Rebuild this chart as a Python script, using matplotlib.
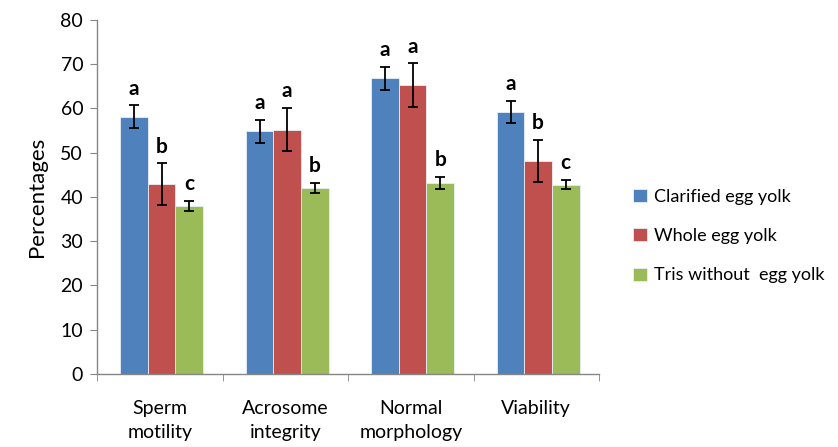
import numpy as np
import matplotlib.pyplot as plt

plt.rcParams['font.family'] = ['Lato', 'DejaVu Sans']

# Semen quality traits after freezing with three extenders
categories = ['Sperm\nmotility', 'Acrosome\nintegrity', 'Normal\nmorphology', 'Viability']
series = ['Clarified egg yolk', 'Whole egg yolk', 'Tris without  egg yolk']

clarified = [58.1, 54.9, 66.8, 59.3]
whole = [42.9, 55.2, 65.3, 48.1]
tris = [38.0, 42.1, 43.2, 42.8]

clarified_err = [2.6, 2.6, 2.6, 2.5]
whole_err = [4.7, 4.9, 4.9, 4.8]
tris_err = [1.2, 1.1, 1.3, 1.1]

clarified_sig = ['a', 'a', 'a', 'a']
whole_sig = ['b', 'a', 'a', 'b']
tris_sig = ['c', 'b', 'b', 'c']

colors = ['#4F81BD', '#C0504D', '#9BBB59']
axis_grey = '#868686'

fig = plt.figure(figsize=(8.38, 4.47), dpi=100)
ax = fig.add_axes([0.1158, 0.1633, 0.599, 0.792])

x = np.arange(len(categories))
w = 0.22
values = [clarified, whole, tris]
errors = [clarified_err, whole_err, tris_err]
letters = [clarified_sig, whole_sig, tris_sig]

for i, (vals, errs, sig) in enumerate(zip(values, errors, letters)):
    pos = x + (i - 1) * w + 0.015
    ax.bar(pos, vals, width=w, color=colors[i], edgecolor='#e8eef6', linewidth=0.6,
           label=series[i], zorder=2)
    ax.errorbar(pos, vals, yerr=errs, fmt='none', ecolor='black', elinewidth=1.3,
                capsize=3.6, capthick=1.3, zorder=3)
    for p, v, e, s in zip(pos, vals, errs, sig):
        ax.text(p, v + e + 1.5, s, ha='center', va='bottom', fontsize=15,
                fontweight='bold', color='black')

ax.set_xlim(-0.5, 3.5)
ax.set_ylim(0, 80)
ax.set_yticks(np.arange(0, 81, 10))
ax.set_xticks(x)
ax.set_xticklabels(categories, fontsize=14, linespacing=1.45)
ax.set_xticks(np.arange(-0.5, 4, 1), minor=True)
ax.tick_params(axis='x', which='major', length=0, pad=19)
ax.tick_params(axis='x', which='minor', length=5, color=axis_grey, direction='out')
ax.tick_params(axis='y', length=5, color=axis_grey, labelsize=14, pad=5)
ax.set_ylabel('Percentages', fontsize=16, labelpad=10)

for side in ['top', 'right']:
    ax.spines[side].set_visible(False)
for side in ['left', 'bottom']:
    ax.spines[side].set_color(axis_grey)
    ax.spines[side].set_linewidth(1.0)

fig.legend(loc='center left', bbox_to_anchor=(0.747, 0.472), frameon=False,
           fontsize=13, handlelength=0.75, handleheight=0.75, handletextpad=0.4,
           labelspacing=1.3, borderaxespad=0)

fig.savefig('out.png', dpi=100)
